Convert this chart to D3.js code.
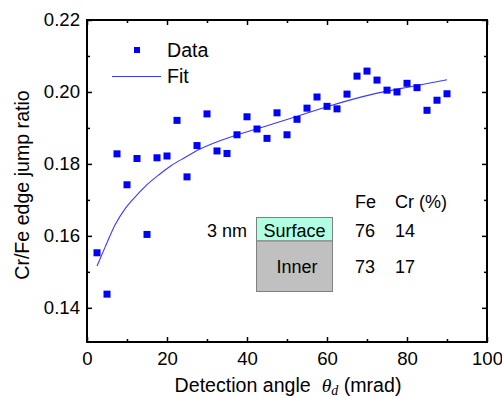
<!DOCTYPE html>
<html>
<head>
<meta charset="utf-8">
<script src="https://cdn.jsdelivr.net/npm/d3@7"></script>
<style>
  html, body { margin: 0; padding: 0; background: #fff; }
  svg { display: block; font-family: "Liberation Sans", Arial, sans-serif; }
</style>
</head>
<body>
<svg id="chart" width="502" height="398"></svg>
<script>
// Detection angle (mrad) of each measurement
const angles = [2.5, 5, 7.5, 10, 12.5, 15, 17.5, 20, 22.5, 25, 27.5, 30, 32.5, 35, 37.5, 40,
  42.5, 45, 47.5, 50, 52.5, 55, 57.5, 60, 62.5, 65, 67.5, 70, 72.5, 75, 77.5, 80, 82.5, 85, 87.5, 90];
// Measured Cr/Fe edge jump ratio
const ratios = [0.1553, 0.1438, 0.1828, 0.1742, 0.1815, 0.1604, 0.1817, 0.1822, 0.1921, 0.1764,
  0.1851, 0.1939, 0.1836, 0.1829, 0.1881, 0.1931, 0.1897, 0.1871, 0.1942, 0.1881,
  0.1924, 0.1955, 0.1986, 0.1960, 0.1953, 0.1994, 0.2044, 0.2058, 0.2033, 0.2005,
  0.2000, 0.2024, 0.2012, 0.1949, 0.1977, 0.1995];
// Fitted curve
const fitAngles = [2.5, 4.5, 7, 9.5, 12, 14.5, 18, 21, 24.5, 28, 37.5, 45, 53, 60, 71.5, 81.5, 90];
const fitRatios = [0.1516, 0.1568, 0.1630, 0.1675, 0.1708, 0.1737, 0.1770, 0.1795, 0.1818,
  0.1840, 0.1881, 0.1906, 0.1934, 0.1959, 0.1994, 0.2016, 0.2034];

const xMajor = [0, 20, 40, 60, 80, 100];
const xMinor = [10, 30, 50, 70, 90];
const yMajor = [0.14, 0.16, 0.18, 0.20, 0.22];
const yMinor = [0.15, 0.17, 0.19, 0.21];

// Composition table
const layerNames = ["Surface", "Inner"];
const feContent = [76, 73];
const crContent = [14, 17];

const svg = d3.select("#chart");
const plotLeft = 87, plotRight = 487, plotTop = 20, plotBottom = 342;

const x = d3.scaleLinear().domain([0, 100]).range([plotLeft, plotRight]);
const y = d3.scaleLinear().domain([0.1305, 0.22]).range([plotBottom, plotTop]);

const tickFont = 18.6;
const labelFont = 19.6;
const insetFont = 18;

// Axes: ticks drawn inward on all four sides
function axisGroup(axis, tx, ty) {
  const g = svg.append("g").attr("transform", `translate(${tx},${ty})`).call(axis);
  g.select(".domain").remove();
  g.selectAll("line").attr("stroke", "#000").attr("stroke-width", 1.5);
  g.selectAll("text").attr("font-size", tickFont).attr("fill", "#000")
    .attr("font-family", "Liberation Sans, Arial, sans-serif");
  return g;
}
const major = 5, minor = 3;
// bottom
axisGroup(d3.axisBottom(x).tickValues(xMajor).tickSize(-major).tickPadding(10)
  .tickFormat(d3.format("d")), 0, plotBottom);
axisGroup(d3.axisBottom(x).tickValues(xMinor).tickSize(-minor).tickFormat(""), 0, plotBottom);
// top
axisGroup(d3.axisTop(x).tickValues(xMajor).tickSize(-major).tickFormat(""), 0, plotTop);
axisGroup(d3.axisTop(x).tickValues(xMinor).tickSize(-minor).tickFormat(""), 0, plotTop);
// left
axisGroup(d3.axisLeft(y).tickValues(yMajor).tickSize(-major).tickPadding(7)
  .tickFormat(d3.format(".2f")), plotLeft, 0);
axisGroup(d3.axisLeft(y).tickValues(yMinor).tickSize(-minor).tickFormat(""), plotLeft, 0);
// right
axisGroup(d3.axisRight(y).tickValues(yMajor).tickSize(-major).tickFormat(""), plotRight, 0);
axisGroup(d3.axisRight(y).tickValues(yMinor).tickSize(-minor).tickFormat(""), plotRight, 0);

// Frame
svg.append("rect")
  .attr("x", plotLeft).attr("y", plotTop)
  .attr("width", plotRight - plotLeft).attr("height", plotBottom - plotTop)
  .attr("fill", "none").attr("stroke", "#000").attr("stroke-width", 2);

// Fit line
const line = d3.line().x((d, i) => x(fitAngles[i])).y(d => y(d)).curve(d3.curveMonotoneX);
svg.append("path").datum(fitRatios)
  .attr("d", line).attr("fill", "none")
  .attr("stroke", "#3a3aff").attr("stroke-width", 1.1);

// Data markers
const ms = 7;
svg.append("g").selectAll("rect").data(ratios).join("rect")
  .attr("x", (d, i) => x(angles[i]) - ms / 2)
  .attr("y", d => y(d) - ms / 2)
  .attr("width", ms).attr("height", ms)
  .attr("fill", "#0000ff");

// Legend
svg.append("rect").attr("x", 134).attr("y", 47).attr("width", 6).attr("height", 6).attr("fill", "#0000ff");
svg.append("text").attr("x", 167).attr("y", 57.3).attr("font-size", labelFont).text("Data");
svg.append("line").attr("x1", 112).attr("x2", 161).attr("y1", 76.5).attr("y2", 76.5)
  .attr("stroke", "#3a3aff").attr("stroke-width", 1.1);
svg.append("text").attr("x", 167).attr("y", 83.3).attr("font-size", labelFont).text("Fit");

// Axis titles
svg.append("text")
  .attr("transform", "translate(29,185) rotate(-90)")
  .attr("text-anchor", "middle").attr("font-size", labelFont)
  .text("Cr/Fe edge jump ratio");

const xt = svg.append("text").attr("x", 288).attr("y", 392)
  .attr("text-anchor", "middle").attr("font-size", labelFont)
  .style("white-space", "pre");
xt.append("tspan").text("Detection angle  ");
xt.append("tspan").attr("font-style", "italic").attr("font-family", "Liberation Serif, serif").text("θ");
xt.append("tspan").attr("font-style", "italic").attr("font-family", "Liberation Serif, serif")
  .attr("font-size", 14).attr("dy", 3).text("d");
xt.append("tspan").attr("dy", -3).text(" (mrad)");

// Layer schematic with composition table
const inset = svg.append("g").attr("font-size", insetFont);
inset.append("rect").attr("x", 256.5).attr("y", 217.5).attr("width", 76).attr("height", 23.5)
  .attr("fill", "#b0ffe2").attr("stroke", "#808080").attr("stroke-width", 1);
inset.append("rect").attr("x", 256.5).attr("y", 241).attr("width", 76).attr("height", 50.5)
  .attr("fill", "#c0c0c0").attr("stroke", "#808080").attr("stroke-width", 1);
inset.append("text").attr("x", 294.5).attr("y", 236.5).attr("text-anchor", "middle").text(layerNames[0]);
inset.append("text").attr("x", 297).attr("y", 273).attr("text-anchor", "middle").text(layerNames[1]);
inset.append("text").attr("x", 247).attr("y", 236.5).attr("text-anchor", "end").text("3 nm");
inset.append("text").attr("x", 355).attr("y", 208).text("Fe");
inset.append("text").attr("x", 395).attr("y", 208).text("Cr (%)");
const rowsY = [236.5, 273];
inset.selectAll("text.fe").data(feContent).join("text").attr("class", "fe")
  .attr("x", 355).attr("y", (d, i) => rowsY[i]).text(d => d);
inset.selectAll("text.cr").data(crContent).join("text").attr("class", "cr")
  .attr("x", 395).attr("y", (d, i) => rowsY[i]).text(d => d);
</script>
</body>
</html>
